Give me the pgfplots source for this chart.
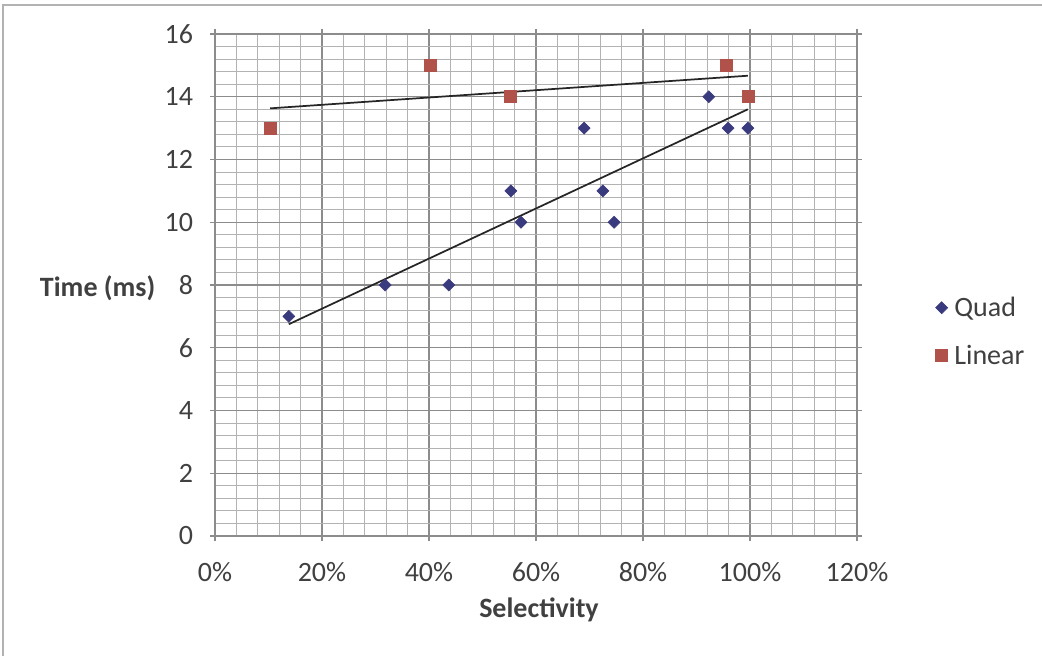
\documentclass[border=0pt]{standalone}
\usepackage{pgfplots}
\pgfplotsset{compat=1.18}
\usepackage{fontspec}
\setmainfont{Carlito}
\definecolor{quad}{HTML}{3A3A7E}
\definecolor{lin}{HTML}{B0524A}
\definecolor{txt}{HTML}{404040}
\begin{document}
\begin{tikzpicture}[x=0.75pt,y=0.75pt]
\useasboundingbox (0,0) rectangle (1042,656);
\draw[gray!60, line width=1.2pt] (3,-5) -- (3,651) -- (1050,651);
\begin{axis}[
  at={(161.25pt,90pt)}, anchor=south west, scale only axis,
  width=481.5pt, height=376.5pt,
  xmin=0, xmax=120, ymin=0, ymax=16,
  xtick={0,20,40,60,80,100,120},
  xticklabels={0\%,20\%,40\%,60\%,80\%,100\%,120\%},
  ytick={0,2,4,6,8,10,12,14,16},
  yticklabels={0,2,4,6,8,10,12,14,16},
  minor x tick num=4, minor y tick num=4,
  grid=both,
  major grid style={draw=gray!90, line width=0.9pt},
  minor grid style={draw=gray!60, line width=0.7pt},
  axis line style={draw=gray!90, line width=0.9pt},
  tick align=outside, major tick length=4pt, minor tick length=0pt,
  tick style={draw=gray!90, line width=0.9pt},
  font=\fontsize{21}{24}\selectfont,
  ticklabel style={text=txt},
  xticklabel style={yshift=-12pt},
  yticklabel style={xshift=-9pt},
  every axis y label/.style={at={(rel axis cs:0,0.5)}, anchor=center, xshift=-88pt, yshift=-2.25pt, font=\fontsize{21}{24}\selectfont\bfseries, text=txt},
  every axis x label/.style={at={(rel axis cs:0.5,0)}, anchor=center, xshift=2.25pt, yshift=-55.5pt, font=\fontsize{21}{24}\selectfont\bfseries, text=txt},
  ylabel={Time (ms)}, xlabel={Selectivity},
  legend style={at={(1.122,0.407)}, anchor=west, draw=none, fill=none, font=\fontsize{21}{24}\selectfont, text=txt, row sep=16pt, inner sep=0pt},
  legend cell align=left,
  clip=false,
]
\addplot[only marks, mark=square*, mark size=3.2pt, mark options={rotate=45, draw=quad, fill=quad}] coordinates {
 (13.8,7) (31.8,8) (43.7,8) (55.3,11) (57.2,10) (69.0,13) (72.5,11) (74.6,10) (92.3,14) (95.9,13) (99.6,13)
};
\addlegendentry{\hspace{3pt}Quad}
\addplot[only marks, mark=square*, mark size=4.5pt, mark options={draw=lin, fill=lin}] coordinates {
 (10.3,13) (40.2,15) (55.1,14) (95.5,15) (99.6,14)
};
\addlegendentry{\hspace{3pt}Linear}
\addplot[forget plot, black!85, line width=1.3pt] coordinates {(13.8,6.75) (99.6,13.6)};
\addplot[forget plot, black!85, line width=1.3pt] coordinates {(10.3,13.63) (99.6,14.67)};
\end{axis}
\end{tikzpicture}
\end{document}
